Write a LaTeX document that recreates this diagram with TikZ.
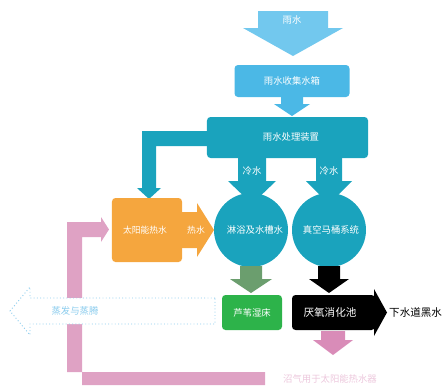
\documentclass[tikz,border=0pt]{standalone}
\usepackage{fontspec}
\setmainfont{Noto Sans CJK SC}
\usepackage{tikz}
\usetikzlibrary{positioning}

\definecolor{rainblue}{HTML}{72C8EE}
\definecolor{tankblue}{HTML}{4BB8E6}
\definecolor{teal}{HTML}{1AA3BD}
\definecolor{solar}{HTML}{F5A63E}
\definecolor{reedgreen}{HTML}{2DB34A}
\definecolor{mossgreen}{HTML}{6B9E6E}
\definecolor{biogas}{HTML}{DFA2C4}
\definecolor{biogasdark}{HTML}{D98CB8}
\definecolor{vapour}{HTML}{8CCDEE}

\begin{document}
\begin{tikzpicture}[x=0.03cm,y=-0.03cm,
  lbl/.style={text=white,font=\fontsize{8}{9}\selectfont,inner sep=0pt},
  tank/.style={rounded corners=3pt,inner sep=0pt}]
\useasboundingbox (0,0) rectangle (446,385);

% pink biogas loop
\fill[biogas] (265,372) -- (67,372) -- (67,222) -- (102,222) -- (102,237)
  -- (82,237) -- (82,385) -- (265,385) -- cycle;
\fill[biogas] (101,217) -- (109,229.5) -- (101,242) -- cycle;

% rain
\fill[rainblue] (258,11) -- (328,11) -- (328,28) -- (343,28) -- (293,56) -- (243,28) -- (258,28) -- cycle;
\node[lbl] (rain) at (292,20) {雨水};

% collecting tank
\node[tank,fill=tankblue,minimum width=3.45cm,minimum height=0.96cm] (collect) at (292,81) {};
\node[lbl] at (collect) {雨水收集水箱};
\fill[tankblue] (281,96) -- (303,96) -- (303,104) -- (310,104) -- (292,116) -- (274,104) -- (281,104) -- cycle;

% treatment unit
\node[tank,fill=teal,minimum width=4.83cm,minimum height=1.23cm] (treat) at (287.5,137.5) {};
\node[lbl] at (291,137) {雨水处理装置};

% pipe to the orange tank
\fill[teal] (210,131) -- (142,131) -- (142,188) -- (137,188) -- (149,199) -- (161,188)
  -- (156,188) -- (156,146) -- (210,146) -- cycle;

% cold water
\fill[teal] (238,156) -- (266,156) -- (266,181) -- (276,181) -- (252,204) -- (228,181) -- (238,181) -- cycle;
\fill[teal] (316,156) -- (342,156) -- (342,181) -- (352,181) -- (329,204) -- (306,181) -- (316,181) -- cycle;
\node[lbl] (cold1) at (252,171) {冷水};
\node[lbl] (cold2) at (329,171) {冷水};

% circles
\node[circle,fill=teal,minimum size=2.22cm,inner sep=0pt] (shower) at (251,230) {};
\node[lbl] at (255,230) {淋浴及水槽水};
\node[circle,fill=teal,minimum size=2.22cm,inner sep=0pt] (toilet) at (329,230) {};
\node[lbl] at (331,230) {真空马桶系统};

% solar hot water
\node[tank,fill=solar,minimum width=2.1cm,minimum height=1.92cm] (solar) at (147,230) {};
\node[lbl,font=\fontsize{7.5}{9}\selectfont] at (145,230) {太阳能热水};
\fill[solar] (178,212) -- (197,212) -- (197,203) -- (214,230) -- (197,257) -- (197,248) -- (178,248) -- cycle;
\node[lbl,font=\fontsize{7.5}{9}\selectfont] (hot) at (196,230) {热水};

% to reed bed and digester
\fill[mossgreen] (240,266) -- (262,266) -- (262,279) -- (272,279) -- (251,293) -- (230,279) -- (240,279) -- cycle;
\fill[black] (318,266) -- (340,266) -- (340,279) -- (349,279) -- (329,293) -- (309,279) -- (318,279) -- cycle;

\node[tank,fill=reedgreen,minimum width=1.8cm,minimum height=1.05cm] (reed) at (252,312.5) {};
\node[lbl] at (reed) {芦苇湿床};

\fill[black,rounded corners=3pt] (375,295) -- (292,295) -- (292,330) -- (375,330) -- cycle;
\fill[black] (374,289) -- (387,312.5) -- (374,336) -- cycle;
\node[lbl,font=\fontsize{9}{10}\selectfont] (digest) at (330,312.5) {厌氧消化池};
\node[inner sep=0pt,font=\fontsize{9}{10}\selectfont,anchor=west] (sewer) at (389,312.5) {下水道黑水};

% evaporation
\filldraw[fill=white,draw=vapour,dotted,thick] (215,298) -- (30,298) -- (30,287) -- (10,311)
  -- (30,335) -- (30,324) -- (215,324) -- cycle;
\node[lbl,text=vapour] (evap) at (75,311) {蒸发与蒸腾};

% biogas
\fill[biogasdark] (321,331) -- (345,331) -- (345,340) -- (353,340) -- (333,355) -- (313,340) -- (321,340) -- cycle;
\node[lbl,text=biogas!60] (gas) at (330,379) {沼气用于太阳能热水器};
\end{tikzpicture}
\end{document}
